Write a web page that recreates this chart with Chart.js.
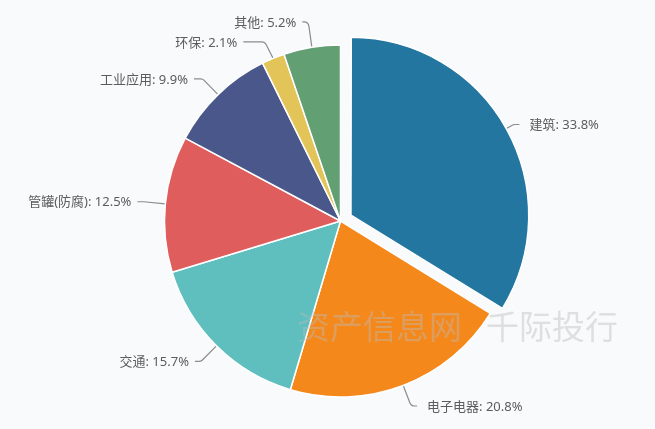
<!DOCTYPE html>
<html>
<head>
<meta charset="utf-8">
<script src="https://cdn.jsdelivr.net/npm/chart.js@4/dist/chart.umd.min.js"></script>
<style>
  html, body { margin: 0; padding: 0; background: #f9fafc; }
  #wrap { width: 655px; height: 429px; position: relative; }
</style>
</head>
<body>
<div id="wrap"><canvas id="pie" width="655" height="429"></canvas></div>
<script>
// 应用领域占比 (%)
const categories = ['建筑', '电子电器', '交通', '管罐(防腐)', '工业应用', '环保', '其他'];
const shares = [33.8, 20.8, 15.7, 12.5, 9.9, 2.1, 5.2];
const colors = ['#23769f', '#f5881a', '#5fbfbf', '#e05d5d', '#4a578a', '#e2c459', '#62a073'];
const highlighted = '建筑';

const FONT = '"Noto Sans", "Noto Sans CJK SC", sans-serif';
const EXPLODE_PX = 12;           // pull-out distance of the highlighted slice
const LINE_LEN = 22, LINE_LEN2 = 6, MIN_GAP = 20;

// label placement: radial guide + short horizontal tail, labels on one side
// pushed apart and realigned on an ellipse when they would collide
function layoutLabels(chart) {
  const meta = chart.getDatasetMeta(0);
  const items = meta.data.map((arc, i) => {
    const p = arc.getProps(['x', 'y', 'startAngle', 'endAngle', 'outerRadius'], true);
    const a = (p.startAngle + p.endAngle) / 2;
    const r = p.outerRadius;
    const ux = Math.cos(a), uy = Math.sin(a);
    const dir = ux >= 0 ? 1 : -1;
    const p1 = { x: p.x + ux * (r + LINE_LEN), y: p.y + uy * (r + LINE_LEN) };
    return {
      i, dir, cx: p.x, cy: p.y, r,
      p0: { x: p.x + ux * r, y: p.y + uy * r },
      p1,
      y: p1.y,
      tailX: p1.x + dir * LINE_LEN2
    };
  });
  [1, -1].forEach(side => {
    const list = items.filter(d => d.dir === side).sort((u, v) => u.y - v.y);
    let shifted = false;
    for (let k = 1; k < list.length; k++) {
      const prev = list[k - 1], cur = list[k];
      const gap = cur.y - prev.y;
      if (gap < MIN_GAP) {
        const s = (MIN_GAP - gap) / 2;
        prev.y -= s; cur.y += s; shifted = true;
      }
    }
    if (!shifted) return;
    [l => l.y < l.cy, l => l.y >= l.cy].forEach(test => {
      const semi = list.filter(test);
      if (!semi.length) return;
      let far = semi[0];
      semi.forEach(d => { if (Math.abs(d.y - d.cy) > Math.abs(far.y - far.cy)) far = d; });
      const rA = far.r + LINE_LEN;
      const dx0 = Math.abs(far.p1.x - far.cx);
      const dyF = Math.abs(far.y - far.cy);
      const rB = dx0 < rA ? Math.sqrt(dyF * dyF / (1 - dx0 * dx0 / (rA * rA))) : rA;
      semi.forEach(d => {
        const dy = Math.abs(d.y - d.cy);
        const dx = rA * Math.sqrt(Math.max(1 - dy * dy / (rB * rB), 0));
        d.tailX = d.cx + d.dir * (dx + LINE_LEN2);
      });
    });
  });
  return items;
}

const outsideLabels = {
  id: 'outsideLabels',
  // guide lines sit under the slices
  beforeDatasetsDraw(chart) {
    const ctx = chart.ctx;
    chart.$labelItems = layoutLabels(chart);
    ctx.save();
    ctx.strokeStyle = '#8c8c8c';
    ctx.lineWidth = 1.2;
    chart.$labelItems.forEach(d => {
      const bx = d.p1.x, by = d.y;
      ctx.beginPath();
      ctx.moveTo(d.p0.x, d.p0.y);
      ctx.arcTo(bx, by, d.tailX, by, 5);
      ctx.lineTo(d.tailX, by);
      ctx.stroke();
    });
    ctx.restore();
  },
  afterDatasetsDraw(chart) {
    const ctx = chart.ctx;
    ctx.save();
    ctx.font = '13px ' + FONT;
    ctx.fillStyle = '#5c5c5c';
    ctx.textBaseline = 'middle';
    chart.$labelItems.forEach(d => {
      ctx.textAlign = d.dir > 0 ? 'left' : 'right';
      const pad = d.dir > 0 ? 10 : 6;
      ctx.fillText(categories[d.i] + ': ' + shares[d.i].toFixed(1) + '%', d.tailX + d.dir * pad, d.y + 1);
    });
    ctx.restore();
  }
};

// semi-transparent watermark over the chart
const watermark = {
  id: 'watermark',
  afterDraw(chart) {
    const ctx = chart.ctx;
    ctx.save();
    ctx.font = '33px "Noto Sans CJK SC", sans-serif';
    ctx.fillStyle = 'rgba(185,185,185,0.42)';
    ctx.textAlign = 'left';
    ctx.textBaseline = 'middle';
    ctx.fillText('资产信息网', 297, 326);
    ctx.fillText('千际投行', 486, 326);
    ctx.restore();
  }
};

new Chart(document.getElementById('pie'), {
  type: 'pie',
  data: {
    labels: categories,
    datasets: [{
      data: shares,
      backgroundColor: colors,
      borderColor: '#ffffff',
      borderWidth: 1.5,
      hoverBorderWidth: 1.5,
      // arc offsets are applied at a quarter of the option value
      offset: c => categories[c.dataIndex] === highlighted ? EXPLODE_PX * 4 : 0,
      hoverOffset: 0
    }]
  },
  options: {
    responsive: false,
    animation: false,
    events: [],
    radius: 176,
    layout: { padding: { left: 30, right: 4, top: 20, bottom: 7 } },
    plugins: { legend: { display: false }, tooltip: { enabled: false } }
  },
  plugins: [outsideLabels, watermark]
});
</script>
</body>
</html>
